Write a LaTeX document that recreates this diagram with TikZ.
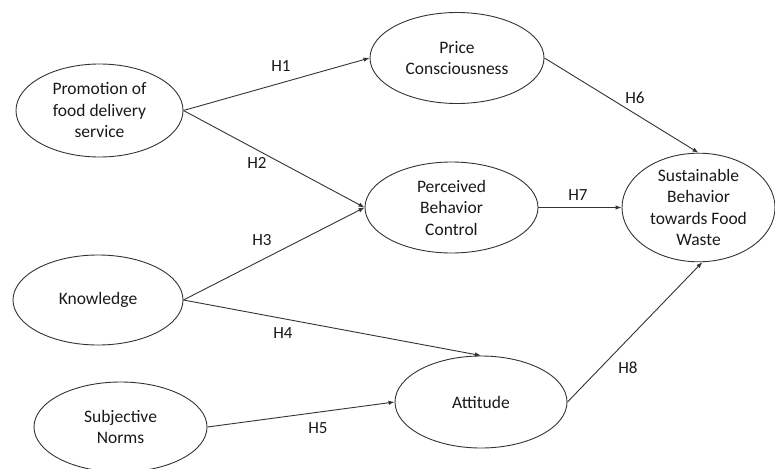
\documentclass[tikz,border=0pt]{standalone}
\usepackage{fontspec}
\setmainfont{Carlito}
\usetikzlibrary{shapes.geometric,arrows.meta}
\begin{document}
\begin{tikzpicture}[x=1pt,y=-1pt,
  constr/.style={ellipse,draw=black!80,line width=0.9pt,inner sep=0pt,align=center,
    font=\fontsize{17.5}{21.5}\selectfont,text=black!90},
  path/.style={draw=black!80,line width=0.9pt,-{Latex[length=6pt,width=4.5pt]}},
  hlab/.style={font=\fontsize{17}{20}\selectfont,text=black!90,inner sep=0pt}]
\useasboundingbox (0,0) rectangle (775,468);
\node[constr,minimum width=167pt,minimum height=93pt] (promo) at (99.5,110.5) {Promotion of\\food delivery\\service};
\node[constr,minimum width=174pt,minimum height=91pt] (price) at (457,58) {Price\\Consciousness};
\node[constr,minimum width=173pt,minimum height=91pt] (pbc) at (451.5,207.5) {Perceived\\Behavior\\Control};
\node[constr,minimum width=153pt,minimum height=91pt] (sust) at (698.5,207.5) {Sustainable\\Behavior\\towards Food\\Waste};
\node[constr,minimum width=170pt,minimum height=90pt] (know) at (98,300) {Knowledge};
\node[constr,minimum width=172pt,minimum height=92pt] (att) at (481,402) {Attitude};
\node[constr,minimum width=173pt,minimum height=90pt] (subj) at (120.5,427) {Subjective\\Norms};
\draw[path] (promo.east) -- (price.west);
\draw[path] (promo.east) -- (pbc.west);
\draw[path] (know.east) -- (pbc.west);
\draw[path] (know.east) -- (att.north);
\draw[path] (subj.east) -- (att.west);
\draw[path] (price.east) -- (sust.north);
\draw[path] (pbc.east) -- (sust.west);
\draw[path] (att.east) -- (sust.-86);
\node[hlab] (h1) at (281,66) {H1};
\node[hlab] (h2) at (257,163) {H2};
\node[hlab] (h3) at (262,240) {H3};
\node[hlab] (h4) at (283,333) {H4};
\node[hlab] (h5) at (318,428) {H5};
\node[hlab] (h6) at (635,98) {H6};
\node[hlab] (h7) at (578,195) {H7};
\node[hlab] (h8) at (628,368) {H8};
\end{tikzpicture}
\end{document}
